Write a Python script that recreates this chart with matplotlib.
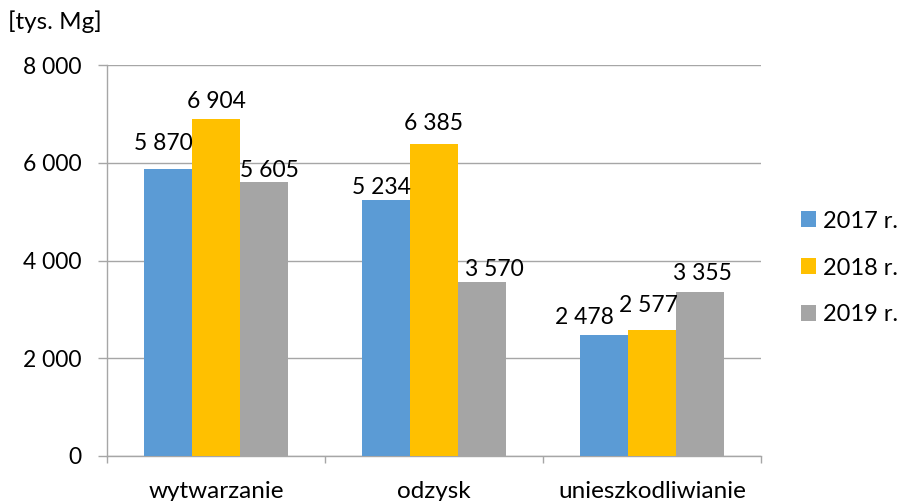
import matplotlib
matplotlib.use("Agg")
import matplotlib.pyplot as plt
from matplotlib.ticker import FixedLocator, FuncFormatter
import numpy as np

plt.rcParams['font.family'] = ['Lato', 'DejaVu Sans']

categories = ["wytwarzanie", "odzysk", "unieszkodliwianie"]
years = ["2017 r.", "2018 r.", "2019 r."]
v2017 = [5870, 5234, 2478]
v2018 = [6904, 6385, 2577]
v2019 = [5605, 3570, 3355]
y_ticks = [0, 2000, 4000, 6000, 8000]

colors = ["#5B9BD5", "#FFC000", "#A5A5A5"]
grid_col = "#A6A6A6"
fs_num = 16.5   # numbers
fs_txt = 17.5   # words

# label nudges (dx px, gap px above the bar) so neighbouring labels don't collide
nudges = [
    [(-5, 19), (-5, 6), (-20, 11)],
    [(0, 11), (0, 14), (-4, 18)],
    [(5, 5), (12, 6), (2, 12)],
]


def fmt(v, pos=None):
    return f"{int(v):,}".replace(",", " ")


fig = plt.figure(figsize=(8.99, 5.01), dpi=100)
ax = fig.add_axes([107 / 899, 1 - 456 / 501, 654 / 899, 391 / 501])

x = np.arange(len(categories))
w = 0.22
series = [v2017, v2018, v2019]
for i, (vals, lab, c) in enumerate(zip(series, years, colors)):
    xs = x + (i - 1) * w
    ax.bar(xs, vals, width=w, color=c, label=lab, zorder=3)
    for j, (xx, v) in enumerate(zip(xs, vals)):
        dx, gap = nudges[i][j]
        ax.annotate(fmt(v), (xx, v), xytext=(dx * 0.72, gap * 0.72),
                    textcoords="offset points", ha="center", va="baseline",
                    fontsize=fs_num, color="black", zorder=4)

ax.set_xlim(-0.5, 2.5)
ax.set_ylim(0, 8000)
ax.yaxis.set_major_locator(FixedLocator(y_ticks))
ax.yaxis.set_major_formatter(FuncFormatter(fmt))
ax.grid(axis="y", color=grid_col, linewidth=1.0, zorder=0)

ax.set_xticks(x)
ax.set_xticklabels(categories)
ax.set_xticks([-0.5, 0.5, 1.5, 2.5], minor=True)
ax.tick_params(axis="x", which="major", length=0, pad=18, labelsize=fs_txt)
ax.tick_params(axis="x", which="minor", length=5, width=1, color=grid_col, direction="out")
ax.tick_params(axis="y", which="major", length=6.5, width=1, color=grid_col,
               pad=12, labelsize=fs_num)

for s in ["top", "right"]:
    ax.spines[s].set_visible(False)
for s in ["left", "bottom"]:
    ax.spines[s].set_color(grid_col)
    ax.spines[s].set_linewidth(1.0)

fig.text(8 / 899, 1 - 22 / 501, "[tys. Mg]", fontsize=fs_txt, va="center", ha="left")

fig.legend(loc="center left", bbox_to_anchor=(801 / 899, 1 - 268 / 501),
           frameon=False, fontsize=17, handlelength=0.64, handleheight=0.64,
           handletextpad=0.3, labelspacing=1.1, borderpad=0, borderaxespad=0)

fig.savefig("out.png", dpi=100)
